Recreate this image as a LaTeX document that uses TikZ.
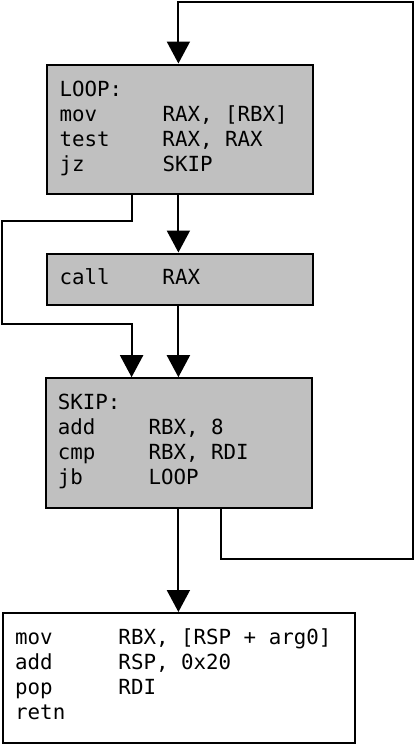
\documentclass[tikz,border=0pt]{standalone}
\usepackage{fontspec}
\setmonofont{DejaVu Sans Mono}
\usetikzlibrary{arrows.meta}
\definecolor{boxgray}{RGB}{192,192,192}
\tikzset{
  blk/.style={draw=black, line width=2pt, inner sep=0pt, anchor=north west},
  code/.style={anchor=base west, inner sep=0pt, font=\ttfamily\fontsize{20.8}{25}\selectfont},
  arr/.style={line width=2pt, -{Triangle[length=22pt,width=23pt]}}
}
\begin{document}
\begin{tikzpicture}[x=1pt,y=-1pt]
\useasboundingbox (0,0) rectangle (415,744);
% boxes
\node[blk, fill=boxgray, minimum width=265.4pt, minimum height=129.5pt] (loop) at (46.3,63.5) {};
\node[blk, fill=boxgray, minimum width=265.4pt, minimum height=51pt] (call) at (46.3,252.5) {};
\node[blk, fill=boxgray, minimum width=265.8pt, minimum height=129.8pt] (skip) at (45,377.2) {};
\node[blk, fill=white, minimum width=351.7pt, minimum height=130pt] (tail) at (2.3,612) {};
% texts
\node[code] (tloop) at (59.3,96.7) {\begin{tabular}[t]{@{}p{103pt}@{}l@{}}LOOP:&\\ mov&RAX, [RBX]\\ test&RAX, RAX\\ jz&SKIP\end{tabular}};
\node[code] (tcall) at (59.3,284) {\begin{tabular}[t]{@{}p{103pt}@{}l@{}}call&RAX\end{tabular}};
\node[code] (tskip) at (57.7,409.3) {\begin{tabular}[t]{@{}p{90.7pt}@{}l@{}}SKIP:&\\ add&RBX, 8\\ cmp&RBX, RDI\\ jb&LOOP\end{tabular}};
\node[code] (ttail) at (15,644.3) {\begin{tabular}[t]{@{}p{103.3pt}@{}l@{}}mov&RBX, [RSP + arg0]\\ add&RSP, 0x20\\ pop&RDI\\ retn&\end{tabular}};
% helper coordinates
\coordinate (jx) at (131.6,0);
\coordinate (kx) at (221,0);
\coordinate (l1) at (2.3,221);
\coordinate (l2) at (2.3,324);
\coordinate (r1) at (413.3,559.3);
\coordinate (r2) at (413.3,2.3);
\coordinate (cx) at (178.4,0);
% connectors
\draw[arr] (loop.south -| cx) -- (call.north -| cx);
\draw[arr] (call.south -| cx) -- (skip.north -| cx);
\draw[arr] (skip.south -| cx) -- (tail.north -| cx);
\draw[arr] (loop.south -| jx) |- (l1) -- (l2) -| (skip.north -| jx);
\draw[arr] (skip.south -| kx) |- (r1) -- (r2) -| (loop.north -| cx);
\end{tikzpicture}
\end{document}
